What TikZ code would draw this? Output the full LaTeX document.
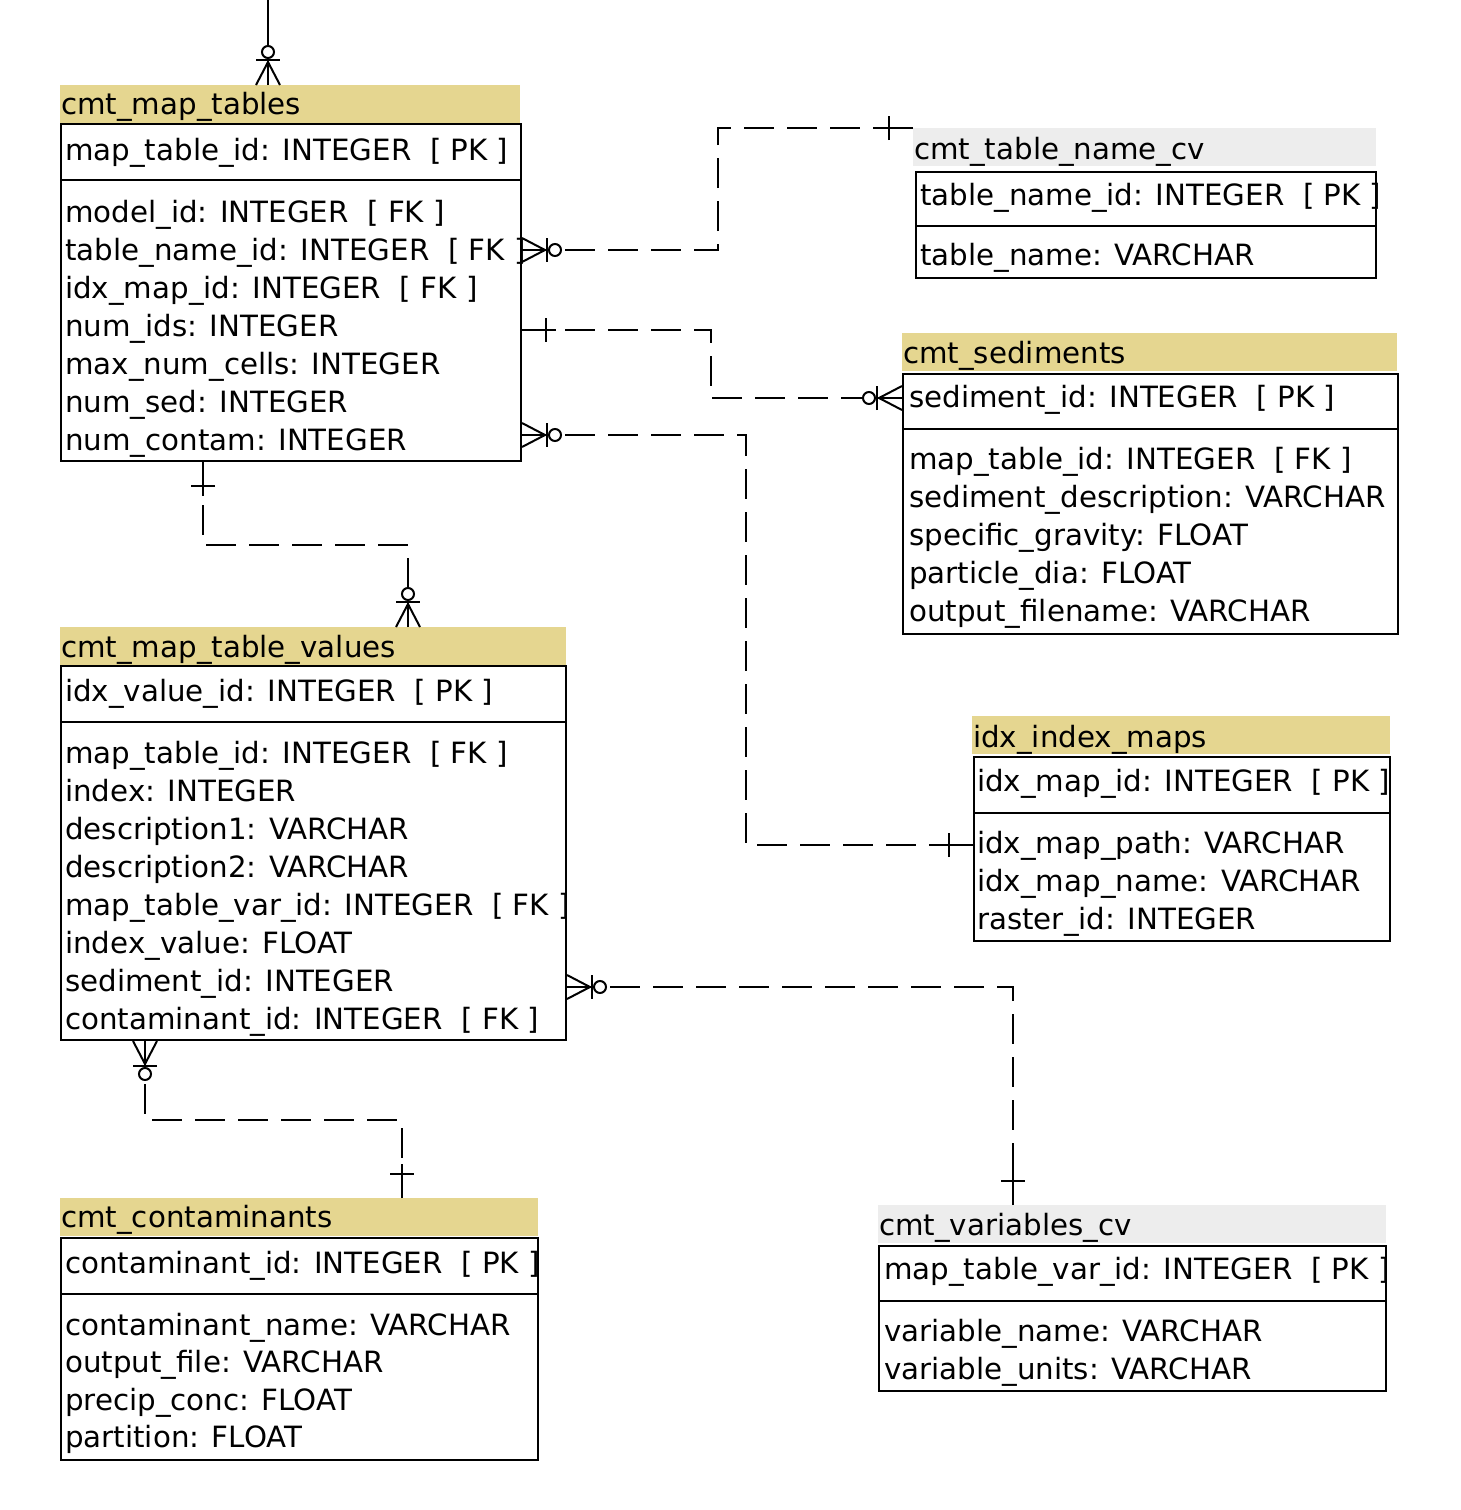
\documentclass[tikz,border=0pt]{standalone}
\usepackage{fontspec}
\setmainfont{DejaVu Sans}
\definecolor{hdry}{RGB}{229,214,144}
\definecolor{hdrg}{RGB}{237,237,237}
\tikzset{
  hdr/.style={anchor=north west, inner sep=0, minimum height=38, draw=none},
  tbox/.style={draw, line width=2, anchor=north west, inner sep=0},
  txt/.style={anchor=base west, inner sep=0, font=\fontsize{29.3}{36}\selectfont},
  sepl/.style={line width=2},
  conn/.style={line width=2, dash pattern=on 30 off 13},
  solidconn/.style={line width=2},
  sym/.style={line width=2}
}
\newcommand\zmany[2]{\begin{scope}[shift={(#1)},rotate=#2]
  \draw[sym] (0,0)--(40,0);
  \draw[sym] (0,-12)--(23,0)--(0,12);
  \draw[sym] (25,-12)--(25,12);
  \draw[sym,fill=white] (33,0) circle (6pt);
\end{scope}}
\newcommand\zone[2]{\begin{scope}[shift={(#1)},rotate=#2]
  \draw[sym] (0,0)--(34,0);
  \draw[sym] (24,-12)--(24,12);
\end{scope}}
\begin{document}
\begin{tikzpicture}[x=1pt,y=-1pt]
\useasboundingbox[fill=white] (0,0) rectangle (1460,1510);

% ---------- cmt_map_tables
\node[hdr, fill=hdry, minimum width=460] (mth) at (60,85) {};
\node[txt] (mtt) at (61,114) {cmt\_map\_tables};
\node[tbox, minimum width=460, minimum height=337] (mt) at (60,123) {};
\draw[sepl] (mt.west |- 0,180) -- (mt.east |- 0,180);
\node[txt] (mtpk) at (65,160) {map\_table\_id: INTEGER\ \ [ PK ]};
\foreach [count=\i] \t in {model\_id: INTEGER\ \ [ FK ], table\_name\_id: INTEGER\ \ [ FK ], idx\_map\_id: INTEGER\ \ [ FK ], num\_ids: INTEGER, max\_num\_cells: INTEGER, num\_sed: INTEGER, num\_contam: INTEGER}
  \node[txt] (mtf\i) at (65,{222+38*(\i-1)}) {\t};

% ---------- cmt_table_name_cv
\node[hdr, fill=hdrg, minimum width=463] (tnh) at (913,128) {};
\node[txt] (tnt) at (914,159) {cmt\_table\_name\_cv};
\node[tbox, minimum width=460, minimum height=106] (tn) at (915,171) {};
\draw[sepl] (tn.west |- 0,226) -- (tn.east |- 0,226);
\node[txt] (tnpk) at (920,205) {table\_name\_id: INTEGER\ \ [ PK ]};
\node[txt] (tnf1) at (920,265) {table\_name: VARCHAR};

% ---------- cmt_sediments
\node[hdr, fill=hdry, minimum width=495] (sdh) at (902,333) {};
\node[txt] (sdt) at (903,363) {cmt\_sediments};
\node[tbox, minimum width=495, minimum height=260] (sd) at (902,373) {};
\draw[sepl] (sd.west |- 0,429) -- (sd.east |- 0,429);
\node[txt] (sdpk) at (909,407) {sediment\_id: INTEGER\ \ [ PK ]};
\foreach [count=\i] \t in {map\_table\_id: INTEGER\ \ [ FK ], sediment\_description: VARCHAR, specific\_gravity: FLOAT, particle\_dia: FLOAT, output\_filename: VARCHAR}
  \node[txt] (sdf\i) at (909,{469+38*(\i-1)}) {\t};

% ---------- idx_index_maps
\node[hdr, fill=hdry, minimum width=418] (imh) at (972,716) {};
\node[txt] (imt) at (973,747) {idx\_index\_maps};
\node[tbox, minimum width=416, minimum height=184] (im) at (973,756) {};
\draw[sepl] (im.west |- 0,813) -- (im.east |- 0,813);
\node[txt] (impk) at (977,791) {idx\_map\_id: INTEGER\ \ [ PK ]};
\foreach [count=\i] \t in {idx\_map\_path: VARCHAR, idx\_map\_name: VARCHAR, raster\_id: INTEGER}
  \node[txt] (imf\i) at (977,{853+38*(\i-1)}) {\t};

% ---------- cmt_map_table_values
\node[hdr, fill=hdry, minimum width=506] (mvh) at (60,627) {};
\node[txt] (mvt) at (61,657) {cmt\_map\_table\_values};
\node[tbox, minimum width=505, minimum height=374] (mv) at (60,665) {};
\draw[sepl] (mv.west |- 0,722) -- (mv.east |- 0,722);
\node[txt] (mvpk) at (65,701) {idx\_value\_id: INTEGER\ \ [ PK ]};
\foreach [count=\i] \t in {map\_table\_id: INTEGER\ \ [ FK ], index: INTEGER, description1: VARCHAR, description2: VARCHAR, map\_table\_var\_id: INTEGER\ \ [ FK ], index\_value: FLOAT, sediment\_id: INTEGER, contaminant\_id: INTEGER\ \ [ FK ]}
  \node[txt] (mvf\i) at (65,{763+38*(\i-1)}) {\t};

% ---------- cmt_contaminants
\node[hdr, fill=hdry, minimum width=478] (ch) at (60,1198) {};
\node[txt] (ct) at (61,1227) {cmt\_contaminants};
\node[tbox, minimum width=477, minimum height=222] (cb) at (60,1237) {};
\draw[sepl] (cb.west |- 0,1294) -- (cb.east |- 0,1294);
\node[txt] (cpk) at (65,1273) {contaminant\_id: INTEGER\ \ [ PK ]};
\foreach [count=\i] \t in {contaminant\_name: VARCHAR, output\_file: VARCHAR, precip\_conc: FLOAT, partition: FLOAT}
  \node[txt] (cf\i) at (65,{1335+37.5*(\i-1)}) {\t};

% ---------- cmt_variables_cv
\node[hdr, fill=hdrg, minimum width=508] (vch) at (878,1205) {};
\node[txt] (vct) at (879,1235) {cmt\_variables\_cv};
\node[tbox, minimum width=507, minimum height=145] (vc) at (878,1245) {};
\draw[sepl] (vc.west |- 0,1301) -- (vc.east |- 0,1301);
\node[txt] (vcpk) at (884,1279) {map\_table\_var\_id: INTEGER\ \ [ PK ]};
\node[txt] (vcf1) at (884,1341) {variable\_name: VARCHAR};
\node[txt] (vcf2) at (884,1379) {variable\_units: VARCHAR};

% ---------- connectors
\coordinate (topend) at (268,0);
\draw[solidconn] (topend) -- (mth.north -| 268,0);
\zmany{mth.north -| 268,0}{90}

\draw[conn] (mt.east |- 0,250) -- (718,250) |- (tnh.north west);
\zmany{mt.east |- 0,250}{0}
\zone{tnh.north west}{180}

\draw[conn] (mt.east |- 0,330) -- (711,330) |- (sd.west |- 0,398);
\zone{mt.east |- 0,330}{0}
\zmany{sd.west |- 0,398}{180}

\draw[conn] (mt.east |- 0,435) -- (746,435) |- (im.west |- 0,845);
\zmany{mt.east |- 0,435}{0}
\zone{im.west |- 0,845}{180}

\draw[conn] (mt.south -| 203,0) |- (408,545) -- (mvh.north -| 408,0);
\zone{mt.south -| 203,0}{-90}
\zmany{mvh.north -| 408,0}{90}

\draw[conn] (mv.east |- 0,987) -| (vch.north -| 1013,0);
\zmany{mv.east |- 0,987}{0}
\zone{vch.north -| 1013,0}{90}

\draw[conn] (mv.south -| 145,0) |- (402,1120) -- (ch.north -| 402,0);
\zmany{mv.south -| 145,0}{-90}
\zone{ch.north -| 402,0}{90}
\end{tikzpicture}
\end{document}
